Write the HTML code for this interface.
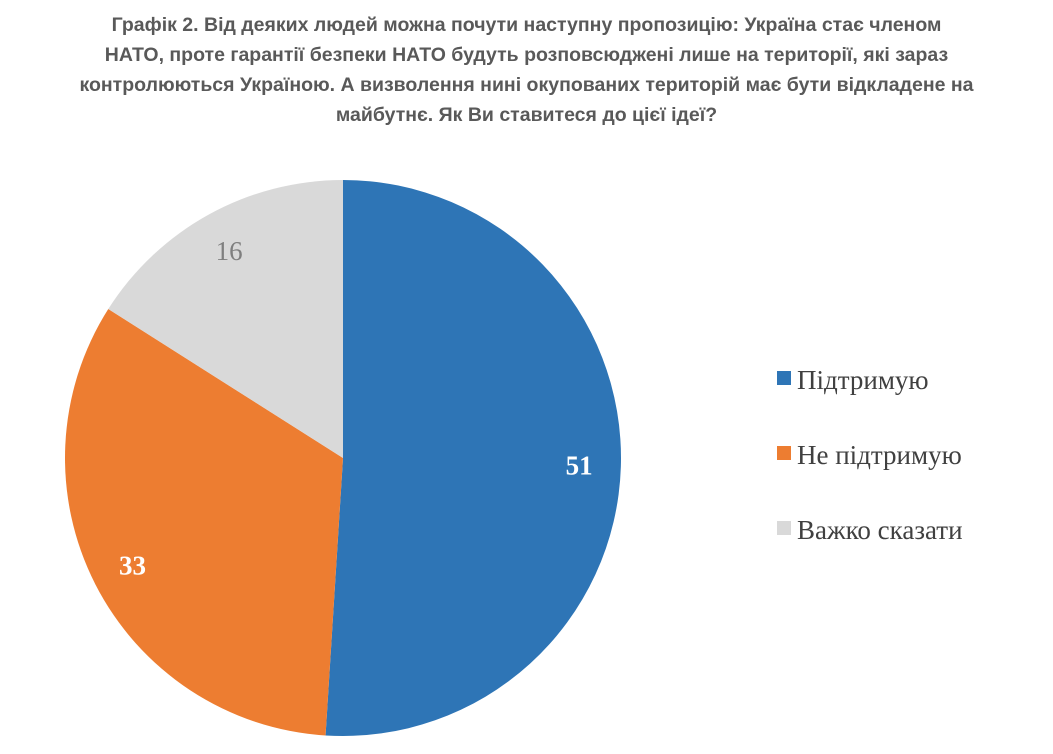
<!DOCTYPE html>
<html><head><meta charset="utf-8"><style>
body{margin:0;background:#fff;width:1053px;height:754px;overflow:hidden;position:relative;font-family:"Liberation Sans",sans-serif}
#title{position:absolute;left:0;top:10px;width:1053px;text-align:center;font-weight:bold;font-size:19.5px;line-height:30px;color:#595959}
svg{position:absolute;left:0;top:0}
</style></head><body>
<div id="title">Графік 2. Від деяких людей можна почути наступну пропозицію: Україна стає членом<br>НАТО, проте гарантії безпеки НАТО будуть розповсюджені лише на території, які зараз<br>контролюються Україною. А визволення нині окупованих територій має бути відкладене на<br>майбутнє. Як Ви ставитеся до цієї ідеї?</div>
<svg width="1053" height="754">
<g id="pie"></g>
<g id="legend"></g>
</svg>
<script>
const categories=["Підтримую","Не підтримую","Важко сказати"];
const values=[51,33,16];
const colors=["#2e75b6","#ed7d31","#d9d9d9"];
const labelColors=["#fff","#fff","#7f7f7f"];
const NS="http://www.w3.org/2000/svg";
const cx=343,cy=458,r=278;
const pie=document.getElementById('pie'),leg=document.getElementById('legend');
const total=values.reduce((a,b)=>a+b,0);
let a0=0;
function pt(a,rr){return [cx+rr*Math.sin(a),cy-rr*Math.cos(a)];}
values.forEach((v,i)=>{
 const a1=a0+v/total*2*Math.PI;
 const p0=pt(a0,r),p1=pt(a1,r);
 const path=document.createElementNS(NS,'path');
 path.setAttribute('d',`M${cx},${cy}L${p0[0]},${p0[1]}A${r},${r} 0 ${a1-a0>Math.PI?1:0} 1 ${p1[0]},${p1[1]}Z`);
 path.setAttribute('fill',colors[i]);
 
 
 pie.appendChild(path);
 const m=(a0+a1)/2,lp=pt(m,r*0.85);
 const t=document.createElementNS(NS,'text');
 t.setAttribute('x',lp[0]);t.setAttribute('y',lp[1]+9);
 t.setAttribute('text-anchor','middle');
 t.setAttribute('font-family','Liberation Serif, serif');
 t.setAttribute('font-size','27');
 if(i<2)t.setAttribute('font-weight','bold');
 t.setAttribute('fill',labelColors[i]);
 t.textContent=v;
 
 
 pie.appendChild(t);
 a0=a1;
});
categories.forEach((c,i)=>{
 const y=380+i*75;
 const s=document.createElementNS(NS,'rect');
 s.setAttribute('x',777);s.setAttribute('y',y-9);s.setAttribute('width',14);s.setAttribute('height',14);
 s.setAttribute('fill',colors[i]);
 
 
 leg.appendChild(s);
 const t=document.createElementNS(NS,'text');
 t.setAttribute('x',797);t.setAttribute('y',y+9);
 t.setAttribute('font-family','Liberation Serif, serif');t.setAttribute('font-size','27');
 t.setAttribute('fill','#404040');t.textContent=c;
 
 
 leg.appendChild(t);
});
</script>
</body></html>
